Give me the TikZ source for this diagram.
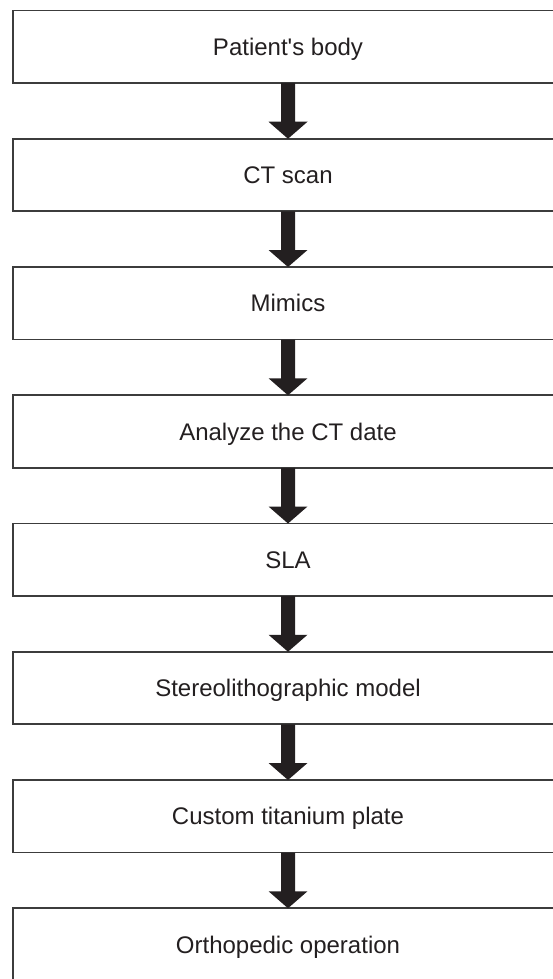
\documentclass[tikz,border=0pt]{standalone}
\usepackage{fontspec}
\setmainfont{Liberation Sans}
\usetikzlibrary{calc}
\definecolor{boxcol}{HTML}{3C3C3C}
\definecolor{arrcol}{HTML}{231F20}
\definecolor{txtcol}{HTML}{231F20}
\tikzset{
  x=1pt, y=1pt,
  stepbox/.style={draw=boxcol, line width=1.7pt, minimum width=550pt, minimum height=72.5pt, inner sep=0pt, outer sep=0pt},
  steptext/.style={text=txtcol, font=\fontsize{24}{28}\selectfont, inner sep=0pt, anchor=base}
}
\begin{document}
\begin{tikzpicture}
\useasboundingbox (0,0) rectangle (553,-979);
\clip (0,0) rectangle (553,-979);
\foreach \i/\t in {1/{Patient\textquotesingle s body},2/{CT scan},3/{Mimics},4/{Analyze the CT date},5/{SLA},6/{Stereolithographic model},7/{Custom titanium plate},8/{Orthopedic operation}}{
  \pgfmathsetmacro{\yc}{-(46.75+128.25*(\i-1))}
  \node[stepbox] (b\i) at (288,\yc) {};
  \node[steptext] (t\i) at ($(b\i.center)+(0,-8.6)$) {\t};
}
\foreach \i [evaluate=\i as \j using int(\i+1)] in {1,...,7}{
  \fill[arrcol] ($(b\i.south)+(-7,0)$) -- ($(b\j.north)+(-7,17)$) -- ($(b\j.north)+(-19.5,17)$) -- (b\j.north) -- ($(b\j.north)+(19.5,17)$) -- ($(b\j.north)+(7,17)$) -- ($(b\i.south)+(7,0)$) -- cycle;
}
\end{tikzpicture}
\end{document}
